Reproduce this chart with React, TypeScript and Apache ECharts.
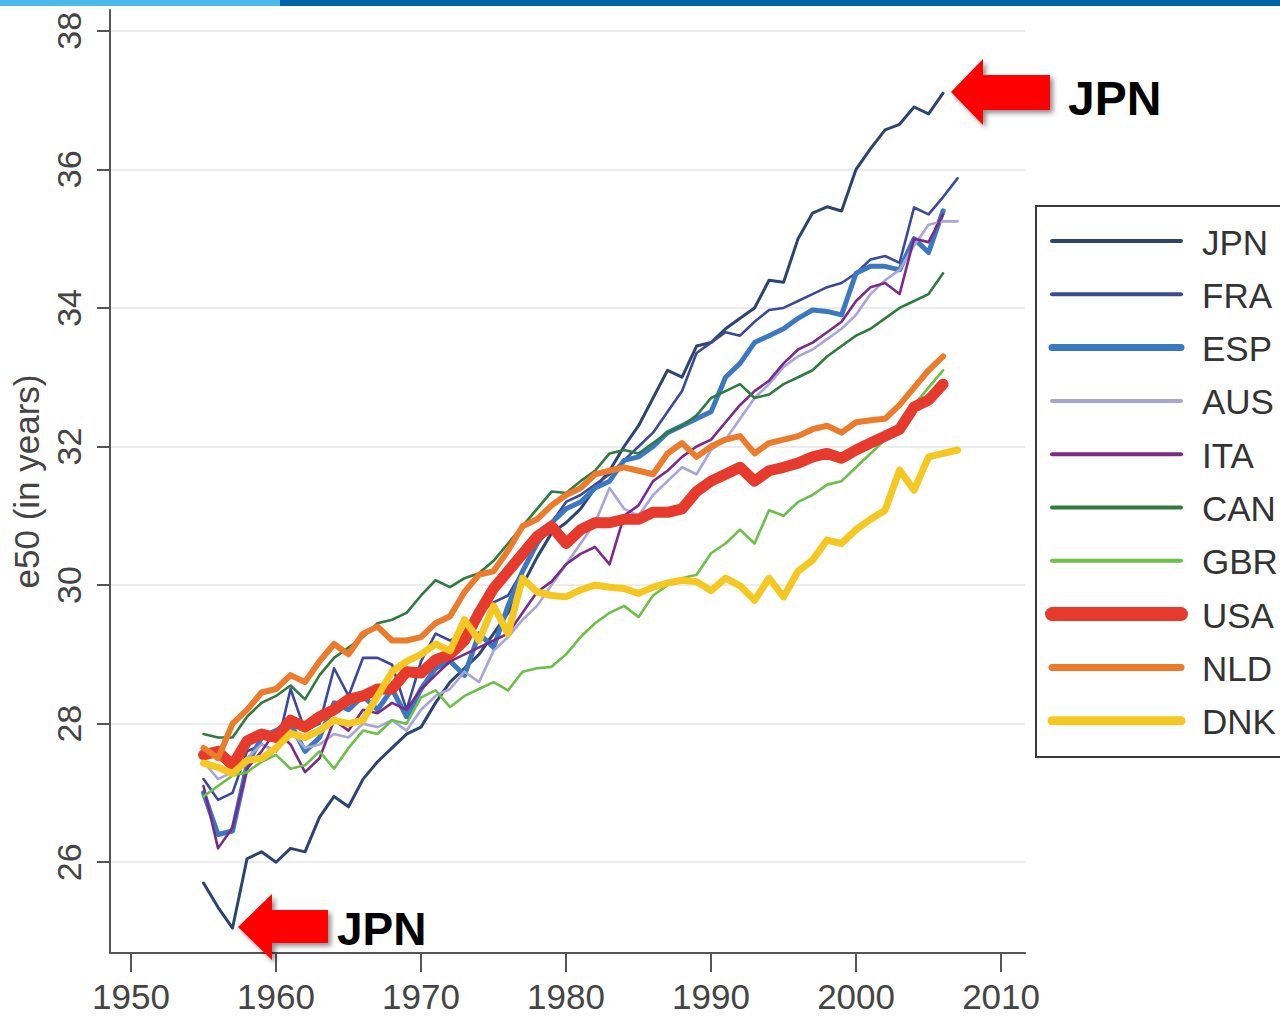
import React, { useEffect, useRef } from "react";
import * as echarts from "echarts";

const startYear = 1955;
const years = Array.from({ length: 53 }, (_, i) => startYear + i);

const countries = ["JPN", "FRA", "ESP", "AUS", "ITA", "CAN", "GBR", "USA", "NLD", "DNK"];

const JPN = [25.7, 25.35, 25.05, 26.05, 26.15, 26.0, 26.2, 26.15, 26.65, 26.95, 26.8, 27.2, 27.45, 27.65, 27.85, 27.95, 28.3, 28.6, 28.8, 29.0, 29.3, 29.6, 30.0, 30.4, 30.75, 30.9, 31.1, 31.4, 31.65, 32.0, 32.3, 32.7, 33.1, 33.0, 33.45, 33.5, 33.7, 33.85, 34.0, 34.4, 34.37, 35.0, 35.37, 35.46, 35.4, 36.0, 36.3, 36.57, 36.65, 36.9, 36.8, 37.1, null];
const FRA = [27.2, 26.9, 27.0, 27.6, 27.7, 27.6, 28.5, 27.9, 28.0, 28.8, 28.4, 28.95, 28.95, 28.85, 28.2, 28.9, 29.3, 29.2, 29.3, 29.6, 29.75, 29.85, 30.2, 30.6, 30.9, 31.2, 31.3, 31.45, 31.6, 31.8, 32.0, 32.2, 32.5, 32.8, 33.35, 33.5, 33.65, 33.6, 33.8, 33.97, 34.0, 34.1, 34.2, 34.3, 34.36, 34.5, 34.7, 34.75, 34.65, 35.45, 35.35, 35.6, 35.87];
const ESP = [27.0, 26.4, 26.45, 27.4, 27.8, 27.9, 28.0, 27.6, 27.8, 28.3, 28.2, 28.4, 28.2, 28.5, 28.1, 28.5, 28.8, 28.9, 28.7, 29.3, 29.1, 29.7, 30.2, 30.6, 30.9, 31.1, 31.2, 31.4, 31.5, 31.8, 31.85, 32.0, 32.2, 32.3, 32.4, 32.5, 33.0, 33.2, 33.5, 33.6, 33.7, 33.85, 33.97, 33.95, 33.9, 34.5, 34.6, 34.6, 34.55, 35.0, 34.8, 35.4, null];
const AUS = [27.45, 27.2, 27.3, 27.5, 27.7, 27.6, 27.9, 27.65, 27.7, 27.85, 27.8, 28.0, 27.95, 28.05, 27.9, 28.2, 28.4, 28.5, 28.75, 28.6, 29.05, 29.25, 29.5, 29.7, 30.0, 30.3, 30.6, 30.9, 31.4, 31.1, 31.0, 31.3, 31.5, 31.7, 31.6, 31.95, 32.1, 32.4, 32.7, 32.9, 33.15, 33.3, 33.4, 33.55, 33.7, 33.9, 34.2, 34.4, 34.55, 34.9, 35.2, 35.25, 35.25];
const ITA = [27.1, 26.2, 26.5, 27.35, 27.6, 27.9, 27.7, 27.3, 27.5, 28.05, 27.9, 28.2, 28.15, 28.3, 28.2, 28.5, 28.7, 28.9, 29.0, 29.1, 29.2, 29.3, 29.6, 29.9, 30.05, 30.3, 30.45, 30.55, 30.3, 31.0, 31.15, 31.5, 31.65, 31.85, 32.0, 32.1, 32.35, 32.6, 32.8, 32.95, 33.2, 33.4, 33.5, 33.65, 33.8, 34.1, 34.3, 34.36, 34.2, 35.0, 34.95, 35.35, null];
const CAN = [27.85, 27.8, 27.8, 28.1, 28.3, 28.4, 28.55, 28.35, 28.7, 28.95, 29.1, 29.25, 29.45, 29.5, 29.6, 29.85, 30.07, 29.97, 30.1, 30.17, 30.35, 30.6, 30.85, 31.1, 31.35, 31.33, 31.5, 31.65, 31.9, 31.95, 31.9, 32.05, 32.2, 32.3, 32.45, 32.7, 32.8, 32.9, 32.7, 32.75, 32.9, 33.0, 33.1, 33.3, 33.45, 33.6, 33.7, 33.85, 34.0, 34.1, 34.2, 34.5, null];
const GBR = [26.95, 27.1, 27.25, 27.3, 27.45, 27.55, 27.35, 27.4, 27.6, 27.35, 27.65, 27.9, 27.85, 28.05, 28.0, 28.38, 28.48, 28.24, 28.4, 28.5, 28.6, 28.48, 28.75, 28.8, 28.82, 29.0, 29.25, 29.45, 29.6, 29.7, 29.54, 29.85, 30.0, 30.1, 30.15, 30.46, 30.6, 30.8, 30.6, 31.08, 31.0, 31.2, 31.3, 31.45, 31.5, 31.7, 31.9, 32.1, 32.3, 32.6, 32.85, 33.1, null];
const USA = [27.55, 27.6, 27.4, 27.75, 27.85, 27.8, 28.05, 27.95, 28.1, 28.2, 28.35, 28.4, 28.5, 28.5, 28.75, 28.73, 28.92, 29.0, 29.2, 29.6, 29.95, 30.2, 30.45, 30.7, 30.85, 30.6, 30.8, 30.9, 30.9, 30.95, 30.95, 31.05, 31.05, 31.1, 31.35, 31.5, 31.6, 31.7, 31.5, 31.65, 31.7, 31.76, 31.85, 31.9, 31.83, 31.95, 32.05, 32.15, 32.25, 32.57, 32.67, 32.9, null];
const NLD = [27.65, 27.5, 28.0, 28.2, 28.45, 28.5, 28.7, 28.6, 28.9, 29.15, 29.0, 29.3, 29.4, 29.2, 29.2, 29.25, 29.45, 29.55, 29.9, 30.15, 30.2, 30.5, 30.85, 30.95, 31.15, 31.3, 31.4, 31.6, 31.65, 31.7, 31.65, 31.6, 31.9, 32.05, 31.85, 32.0, 32.1, 32.15, 31.9, 32.05, 32.1, 32.15, 32.25, 32.3, 32.2, 32.35, 32.38, 32.4, 32.6, 32.85, 33.1, 33.3, null];
const DNK = [27.43, 27.37, 27.28, 27.47, 27.5, 27.65, 27.86, 27.8, 27.9, 28.05, 28.0, 28.05, 28.4, 28.75, 28.9, 29.0, 29.15, 29.05, 29.5, 29.2, 29.7, 29.3, 30.1, 29.9, 29.85, 29.83, 29.93, 30.0, 29.97, 29.95, 29.88, 29.97, 30.03, 30.07, 30.05, 29.92, 30.1, 29.99, 29.78, 30.1, 29.83, 30.2, 30.36, 30.65, 30.6, 30.8, 30.95, 31.08, 31.66, 31.37, 31.85, 31.9, 31.95];

const seriesValues = [JPN, FRA, ESP, AUS, ITA, CAN, GBR, USA, NLD, DNK];

const xTicks = [1950, 1960, 1970, 1980, 1990, 2000, 2010];
const yTicks = [26, 28, 30, 32, 34, 36, 38];

const colors = ["#2b4470", "#3a4a98", "#3a78c2", "#a9a5d8", "#7a2a8a", "#2e7a40", "#6cbf47", "#e63a2c", "#ec7b2b", "#f4c820"];
const widths = [3, 2.6, 5, 2.6, 2.6, 2.6, 2.6, 11, 6, 7];
const legendWidths = [4, 4, 7, 4, 4, 4, 4, 14, 7, 9];

const FONT = "'Liberation Sans', Arial, sans-serif";

export default function App() {
  const ref = useRef<HTMLDivElement>(null);
  useEffect(() => {
    if (!ref.current) return;
    const chart = echarts.init(ref.current, undefined, { renderer: "svg" });

    const series = countries.map((name, i) => ({
      name,
      type: "line",
      data: years.map((y, j) => [y, seriesValues[i][j]]),
      showSymbol: false,
      symbol: "none",
      connectNulls: false,
      lineStyle: { color: colors[i], width: widths[i], join: "round", cap: "round" },
      itemStyle: { color: colors[i] },
      z: 2,
    }));

    const legendTop = 241;
    const legendStep = 53.3;
    const legendGraphics: any[] = [
      {
        type: "rect",
        shape: { x: 1036, y: 206, width: 260, height: 551 },
        style: { fill: "#ffffff", stroke: "#3a3a3a", lineWidth: 2 },
        z: 50,
      },
    ];
    countries.forEach((name, i) => {
      const y = legendTop + i * legendStep;
      legendGraphics.push({
        type: "line",
        shape: { x1: 1052, y1: y, x2: 1181, y2: y },
        style: { stroke: colors[i], lineWidth: legendWidths[i], lineCap: "round" },
        z: 51,
      });
      legendGraphics.push({
        type: "text",
        x: 1202,
        y: y + 1,
        style: {
          text: name,
          fill: "#333333",
          fontSize: 35,
          fontFamily: FONT,
          align: "left",
          verticalAlign: "middle",
        },
        z: 51,
      });
    });

    const arrowStyle = {
      fill: "#ff0000",
      shadowBlur: 5,
      shadowColor: "rgba(0,0,0,0.45)",
      shadowOffsetX: 3,
      shadowOffsetY: 3,
    };

    chart.setOption({
      animation: false,
      backgroundColor: "#ffffff",
      grid: { left: 110, right: 255, top: 10, bottom: 64, containLabel: false },
      xAxis: {
        type: "value",
        min: 1948.55,
        max: 2011.65,
        axisLine: { show: true, lineStyle: { color: "#555555", width: 2 } },
        axisTick: { show: true, length: 19, customValues: xTicks, lineStyle: { color: "#555555", width: 2 } },
        axisLabel: {
          customValues: xTicks,
          formatter: (v: number) => String(v),
          margin: 25,
          fontSize: 35,
          lineHeight: 36,
          color: "#444444",
          fontFamily: FONT,
        },
        splitLine: { show: false },
      },
      yAxis: {
        type: "value",
        min: 24.69,
        max: 38.3,
        name: "e50 (in years)",
        nameLocation: "middle",
        nameRotate: 90,
        nameGap: 60,
        nameTextStyle: { fontSize: 35, color: "#444444", fontFamily: FONT },
        axisLine: { show: true, lineStyle: { color: "#555555", width: 2 } },
        axisTick: { show: true, length: 13, customValues: yTicks, lineStyle: { color: "#555555", width: 2 } },
        axisLabel: {
          customValues: yTicks,
          formatter: (v: number) => String(v),
          rotate: 90,
          margin: 24,
          fontSize: 34,
          color: "#444444",
          fontFamily: FONT,
        },
        splitLine: { show: true, lineStyle: { color: "#ececec", width: 2 } },
      },
      series,
      graphic: [
        { type: "rect", shape: { x: 0, y: 0, width: 280, height: 6 }, style: { fill: "#4bb8ea" }, z: 60 },
        { type: "rect", shape: { x: 280, y: 0, width: 1000, height: 6 }, style: { fill: "#0062a8" }, z: 60 },
        ...legendGraphics,
        {
          type: "polygon",
          shape: { points: [[951, 92], [983, 59], [983, 75], [1050, 75], [1050, 110], [983, 110], [983, 125]] },
          style: arrowStyle,
          z: 60,
        },
        {
          type: "polygon",
          shape: { points: [[238, 927], [272, 894], [272, 910], [328, 910], [328, 943], [272, 943], [272, 960]] },
          style: arrowStyle,
          z: 60,
        },
        {
          type: "text",
          x: 1068,
          y: 98,
          style: { text: "JPN", fill: "#000000", fontSize: 48, fontWeight: "bold", fontFamily: FONT, align: "left", verticalAlign: "middle" },
          z: 60,
        },
        {
          type: "text",
          x: 337,
          y: 929,
          style: { text: "JPN", fill: "#000000", fontSize: 46, fontWeight: "bold", fontFamily: FONT, align: "left", verticalAlign: "middle" },
          z: 60,
        },
      ],
    });

    return () => chart.dispose();
  }, []);

  return (
    <div
      ref={ref}
      style={{ position: "absolute", left: 0, top: 0, width: 1280, height: 1017, background: "#ffffff" }}
    />
  );
}
